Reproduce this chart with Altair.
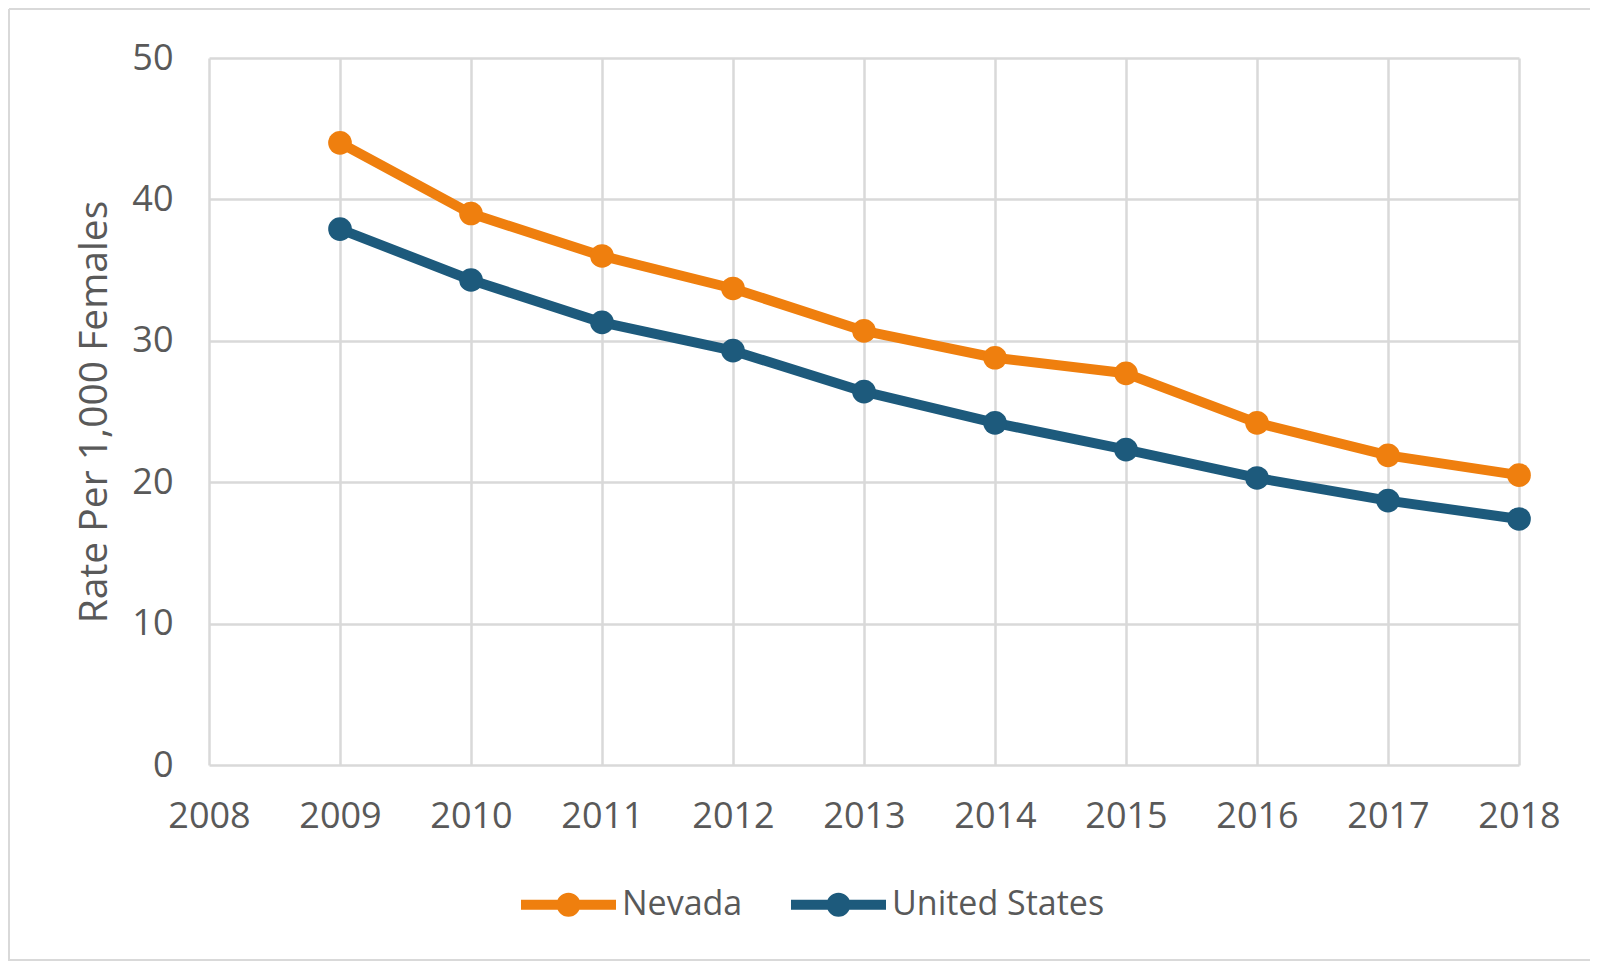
import altair as alt
import pandas as pd

years = [2009, 2010, 2011, 2012, 2013, 2014, 2015, 2016, 2017, 2018]
nevada = [44.0, 39.0, 36.0, 33.7, 30.7, 28.8, 27.7, 24.2, 21.9, 20.5]
united_states = [37.9, 34.3, 31.3, 29.3, 26.4, 24.2, 22.3, 20.3, 18.7, 17.4]
series_names = ["Nevada", "United States"]
series_colors = ["#EF7F0E", "#1D5A7C"]
x_ticks = list(range(2008, 2019))
y_ticks = [0, 10, 20, 30, 40, 50]
y_title = "Rate Per 1,000 Females"

df = pd.DataFrame({
    "year": years * 2,
    "rate": nevada + united_states,
    "series": [series_names[0]] * len(years) + [series_names[1]] * len(years),
})

W, H = 1310, 707
TEXT = "#595959"
GRID = "#D9D9D9"
FONT = "Open Sans"

# line with a solid dot, drawn with stroke only (concentric circles)
legend_path = ("M-1,0L1,0"
               "M0.147,0A0.147,0.147,0,1,1,-0.147,0A0.147,0.147,0,1,1,0.147,0"
               "M0.105,0A0.105,0.105,0,1,1,-0.105,0A0.105,0.105,0,1,1,0.105,0"
               "M0.04,0A0.04,0.04,0,1,1,-0.04,0A0.04,0.04,0,1,1,0.04,0")

x_enc = alt.X("year:Q",
              scale=alt.Scale(domain=[2008, 2018], nice=False, zero=False),
              axis=alt.Axis(values=x_ticks, format="d", title=None,
                            labelPadding=34, tickSize=0, ticks=False,
                            domain=False, grid=True, gridColor=GRID,
                            gridWidth=2.5, labelFont=FONT, labelFontSize=36,
                            labelColor=TEXT, labelBaseline="top",
                            labelFlush=False, labelOverlap=False))
y_enc = alt.Y("rate:Q",
              scale=alt.Scale(domain=[0, 50], nice=False),
              axis=alt.Axis(values=y_ticks, title=y_title,
                            labelPadding=36, tickSize=0, ticks=False,
                            domain=False, grid=True, gridColor=GRID,
                            gridWidth=2.5, labelFont=FONT, labelFontSize=36,
                            labelColor=TEXT, labelFlush=False,
                            labelOverlap=False, titleFont=FONT,
                            titleFontSize=39, titleFontWeight="normal",
                            titleColor=TEXT, titleAngle=270,
                            titleBaseline="alphabetic", titleAlign="center",
                            titleX=-103, titleY=H / 2))

cscale = alt.Scale(domain=series_names, range=series_colors)

leg = alt.Legend(title=None, orient="none", legendX=307, legendY=794,
                 direction="horizontal",
                 symbolType=legend_path, symbolSize=9025,
                 symbolStrokeWidth=10, symbolOpacity=1,
                 labelFont=FONT, labelFontSize=34, labelColor=TEXT,
                 labelOffset=1, labelLimit=500, columnPadding=28)

base = alt.Chart(df)

lines = base.mark_line(strokeWidth=10, strokeJoin="round").encode(
    x=x_enc, y=y_enc,
    color=alt.Color("series:N", scale=cscale, legend=leg),
)
points = base.mark_circle(size=560, opacity=1).encode(
    x="year:Q", y="rate:Q",
    color=alt.Color("series:N", scale=cscale, legend=None),
)

# light frame around the chart: top, left and bottom edges
frame_data = alt.Chart(pd.DataFrame({"k": [0]}))
frame_top = frame_data.mark_rule(stroke=GRID, strokeWidth=2).encode(
    x=alt.value(-200), x2=alt.value(W + 71), y=alt.value(-49))
frame_left = frame_data.mark_rule(stroke=GRID, strokeWidth=2).encode(
    x=alt.value(-200), y=alt.value(-49), y2=alt.value(H + 196))
frame_bottom = frame_data.mark_rule(stroke=GRID, strokeWidth=2).encode(
    x=alt.value(-200), x2=alt.value(W + 71), y=alt.value(H + 195))

chart = alt.layer(frame_top, frame_left, frame_bottom, lines, points).properties(
    width=W, height=H,
    autosize=alt.AutoSizeParams(type="none"),
    padding={"left": 201, "top": 50, "right": 71, "bottom": 196},
    background="white",
).configure_view(stroke=None)

chart.save("out.html", embed_options={"renderer": "svg", "actions": False})
